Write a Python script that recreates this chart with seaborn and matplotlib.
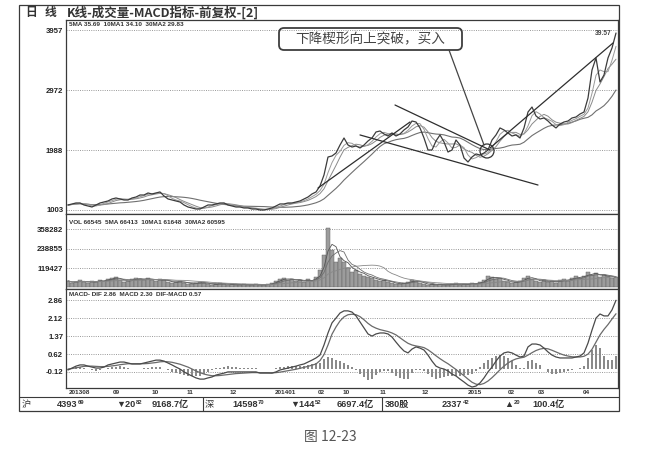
import numpy as np
import pandas as pd
import matplotlib
matplotlib.use("Agg")
import matplotlib.pyplot as plt
import matplotlib.transforms as mtrans
from matplotlib.patches import FancyBboxPatch, Circle, Rectangle
from matplotlib.lines import Line2D
import seaborn as sns

# ---------------- data ----------------
close = [10.85, 11.02, 11.18, 11.18, 10.85, 10.69, 10.52, 10.85, 11.18, 11.34,
         11.51, 11.84, 12.00, 11.84, 11.67, 11.67, 12.00, 12.16, 12.49, 12.49,
         12.82, 12.66, 12.82, 12.99, 12.33, 11.84, 11.67, 11.51, 11.34, 10.85,
         10.52, 10.36, 10.19, 10.19, 10.52, 10.85, 10.85, 11.02, 11.18, 11.18,
         10.85, 10.69, 10.52, 10.52, 10.36, 10.36, 10.19, 10.19, 10.03, 10.03,
         10.19, 10.36, 10.69, 11.02, 11.02, 11.18, 11.18, 11.34, 11.51, 11.84,
         12.16, 12.66, 12.99, 13.97, 15.78, 18.73, 18.90, 19.39, 20.70, 21.85,
         20.70, 20.37, 20.54, 20.21, 20.70, 21.36, 21.85, 22.84, 23.00, 22.51,
         22.18, 22.67, 22.18, 22.51, 23.17, 23.66, 24.64, 24.48, 23.50, 21.85,
         19.88, 19.88, 21.36, 22.35, 21.20, 19.55, 19.88, 21.52, 20.70, 18.57,
         17.91, 18.73, 19.23, 19.06, 19.39, 19.88, 21.52, 22.35, 23.50, 23.17,
         22.67, 22.18, 22.35, 21.85, 23.50, 26.12, 26.94, 25.47, 24.97, 25.14,
         24.64, 23.99, 23.50, 24.15, 24.48, 24.64, 25.14, 25.30, 25.79, 26.12,
         28.42, 33.02, 35.00, 31.05, 32.20, 35.00, 36.63, 39.09]

volume = [40000, 28000, 34000, 46000, 34000, 28000, 40000, 34000, 46000, 40000,
          52000, 58000, 64000, 46000, 34000, 40000, 52000, 58000, 52000, 46000,
          58000, 46000, 40000, 52000, 46000, 34000, 28000, 34000, 40000, 28000,
          21000, 21000, 28000, 34000, 28000, 21000, 15000, 21000, 28000, 21000,
          15000, 21000, 15000, 15000, 21000, 15000, 15000, 21000, 15000, 15000,
          21000, 28000, 40000, 52000, 58000, 46000, 52000, 40000, 46000, 34000,
          52000, 40000, 64000, 107000, 199000, 364000, 230000, 156000, 181000, 156000,
          119000, 95000, 107000, 83000, 70000, 64000, 58000, 46000, 40000, 46000,
          34000, 28000, 21000, 21000, 28000, 34000, 46000, 40000, 28000, 21000,
          15000, 21000, 15000, 21000, 15000, 15000, 21000, 28000, 15000, 21000,
          21000, 28000, 21000, 34000, 46000, 70000, 64000, 52000, 58000, 40000,
          34000, 28000, 34000, 40000, 58000, 70000, 52000, 40000, 34000, 46000,
          34000, 40000, 28000, 46000, 52000, 40000, 58000, 70000, 58000, 70000,
          95000, 77000, 89000, 64000, 77000, 70000, 58000, 64000]

dif = [-0.04, 0.04, 0.12, 0.17, 0.17, 0.12, 0.08, 0.04, 0.04, 0.08,
       0.17, 0.21, 0.25, 0.29, 0.29, 0.25, 0.21, 0.21, 0.21, 0.25,
       0.29, 0.33, 0.37, 0.37, 0.33, 0.25, 0.17, 0.08, 0.00, -0.12,
       -0.21, -0.29, -0.37, -0.42, -0.42, -0.37, -0.33, -0.25, -0.21, -0.17,
       -0.12, -0.12, -0.12, -0.12, -0.12, -0.12, -0.12, -0.12, -0.17, -0.17,
       -0.17, -0.17, -0.12, -0.04, 0.00, 0.04, 0.08, 0.12, 0.17, 0.21,
       0.29, 0.37, 0.46, 0.58, 1.00, 1.50, 1.92, 2.12, 2.33, 2.42,
       2.42, 2.37, 2.21, 1.96, 1.71, 1.46, 1.37, 1.46, 1.50, 1.50,
       1.46, 1.33, 1.12, 0.92, 0.75, 0.67, 0.83, 0.92, 0.87, 0.79,
       0.58, 0.33, 0.12, 0.04, 0.00, -0.08, -0.21, -0.29, -0.42, -0.54,
       -0.67, -0.75, -0.71, -0.58, -0.37, -0.12, 0.08, 0.33, 0.54, 0.67,
       0.71, 0.67, 0.58, 0.50, 0.54, 0.92, 1.04, 1.04, 1.00, 0.87,
       0.71, 0.58, 0.50, 0.46, 0.46, 0.46, 0.46, 0.50, 0.54, 0.67,
       1.08, 1.62, 2.12, 2.29, 2.21, 2.21, 2.46, 2.86]

dea = [0.00, 0.02, 0.05, 0.08, 0.11, 0.12, 0.12, 0.11, 0.10, 0.10,
       0.11, 0.13, 0.15, 0.18, 0.20, 0.22, 0.22, 0.22, 0.22, 0.22,
       0.23, 0.25, 0.27, 0.30, 0.31, 0.30, 0.28, 0.24, 0.20, 0.14,
       0.08, 0.00, -0.08, -0.15, -0.21, -0.25, -0.28, -0.28, -0.27, -0.25,
       -0.23, -0.21, -0.19, -0.18, -0.17, -0.16, -0.15, -0.15, -0.15, -0.15,
       -0.15, -0.16, -0.15, -0.13, -0.10, -0.07, -0.04, -0.01, 0.03, 0.07,
       0.11, 0.16, 0.21, 0.35, 0.60, 1.00, 1.45, 1.75, 2.00, 2.17,
       2.26, 2.28, 2.26, 2.18, 2.05, 1.90, 1.78, 1.70, 1.64, 1.60,
       1.56, 1.50, 1.42, 1.30, 1.18, 1.07, 1.00, 0.96, 0.93, 0.89,
       0.80, 0.68, 0.55, 0.43, 0.32, 0.22, 0.10, -0.02, -0.15, -0.28,
       -0.42, -0.55, -0.63, -0.65, -0.60, -0.50, -0.36, -0.20, -0.03, 0.12,
       0.25, 0.35, 0.42, 0.46, 0.49, 0.58, 0.68, 0.77, 0.83, 0.86,
       0.84, 0.78, 0.71, 0.64, 0.58, 0.54, 0.51, 0.50, 0.50, 0.53,
       0.62, 0.82, 1.12, 1.42, 1.65, 1.85, 2.08, 2.30]

price_ticks = [10.03, 19.88, 29.72, 39.57]
price_labels = ["1003", "1988", "2972", "3957"]
vol_ticks = [119427, 238855, 358282]
vol_labels = ["119427", "238855", "358282"]
macd_ticks = [-0.12, 0.62, 1.37, 2.12, 2.86]
macd_labels = ["-0.12", "0.62", "1.37", "2.12", "2.86"]
date_labels = ["201308", "09", "10", "11", "12", "201401", "02",
               "10", "11", "12", "2015", "02", "03", "04"]
date_pos = [-0.5, 10.5, 20.25, 29, 39.75, 51, 61.75,
            68, 77.25, 87.75, 99.25, 109.25, 116.75, 128]

title_text = "K线-成交量-MACD指标-前复权-[2]"
price_info = "5MA 35.69  10MA1 34.10  30MA2 29.83"
vol_info = "VOL 66545  5MA 66413  10MA1 61648  30MA2 60595"
macd_info = "MACD- DIF 2.86  MACD 2.30  DIF-MACD 0.57"
callout = "下降楔形向上突破，买入"
caption = "图 12-23"
status_main = ["沪", "4393", "▼20", "9168.7亿", "深", "14598", "▼144", "6697.4亿",
               "380股", "2337", "▲", "100.4亿"]
status_sub = [None, "69", "82", None, None, "70", "52", None, None, "42", "20", None]

# ---------------- style ----------------
sns.set_theme(style="white")
plt.rcParams['font.family'] = ['Liberation Sans', 'Noto Sans CJK SC', 'DejaVu Sans']
CJK = ['Noto Sans CJK SC', 'DejaVu Sans']

W, H = 659, 453
fig = plt.figure(figsize=(W / 100, H / 100), dpi=100)
fig.patch.set_facecolor("white")
PIX = mtrans.IdentityTransform()


def rect(x0, y0, x1, y1):
    return [x0 / W, 1 - y1 / H, (x1 - x0) / W, (y1 - y0) / H]


def fx(x):
    return x / W


def fy(y):
    return 1 - y / H


idx = np.arange(len(close))
s_close = pd.Series(close)
s_vol = pd.Series(volume)
hist = np.array(dif) - np.array(dea)

ax_p = fig.add_axes(rect(66, 20, 618, 214))
ax_v = fig.add_axes(rect(66, 214, 618, 289))
ax_m = fig.add_axes(rect(66, 289, 618, 388))

SP = '#3a3a3a'
GRID = '#8c8c8c'
for ax in (ax_p, ax_v, ax_m):
    ax.set_facecolor('white')
    ax.set_xlim(-0.5, len(close) - 0.5)
    for s in ax.spines.values():
        s.set_color(SP)
        s.set_linewidth(0.9)
    ax.tick_params(axis='y', length=0, pad=2, labelsize=5.6, colors='#222')
    ax.grid(False)

# ---- price panel ----
ax_p.set_ylim(9.37, 41.23)
for t in price_ticks:
    ax_p.axhline(t, color=GRID, lw=0.6, ls=(0, (1.2, 1.5)), zorder=0)
ma5 = s_close.rolling(3, min_periods=1).mean()
ma10 = s_close.rolling(5, min_periods=1).mean()
ma30 = s_close.rolling(15, min_periods=1).mean()
sns.lineplot(x=idx, y=ma30.values, ax=ax_p, color='#707070', lw=0.8, legend=False)
sns.lineplot(x=idx, y=ma10.values, ax=ax_p, color='#8a8a8a', lw=0.7, legend=False)
sns.lineplot(x=idx, y=ma5.values, ax=ax_p, color='#9a9a9a', lw=0.7, legend=False)
sns.lineplot(x=idx, y=close, ax=ax_p, color='#3c3c3c', lw=0.9, legend=False)
ax_p.set_yticks(price_ticks, price_labels)
ax_p.set_xticks([])
ax_p.set_xlabel("")
ax_p.text(len(close) - 2, price_ticks[-1], "39.57", ha='right', va='top',
          fontsize=4.8, color='#444', fontweight='bold')

# trend / wedge lines (index, price)
trend_lines = [((81.75, 27.27), (105.5, 19.88)),
               ((73.0, 22.35), (117.5, 14.13)),
               ((62.5, 13.64), (85.5, 24.48)),
               ((105.5, 20.21), (136.25, 37.45))]
for (x0, y0), (x1, y1) in trend_lines:
    ax_p.plot([x0, x1], [y0, y1], color='#2e2e2e', lw=0.9, zorder=5)

# ---- volume panel ----
ax_v.set_ylim(-9188, 450188)
for t in vol_ticks:
    ax_v.axhline(t, color=GRID, lw=0.6, ls=(0, (1.2, 1.5)), zorder=0)
ax_v.bar(idx, volume, width=0.95, color='#9c9c9c', edgecolor='#5a5a5a', linewidth=0.3, zorder=2)
vma5 = s_vol.rolling(3, min_periods=1).mean()
vma10 = s_vol.rolling(5, min_periods=1).mean()
vma30 = s_vol.rolling(15, min_periods=1).mean()
sns.lineplot(x=idx, y=vma5.values, ax=ax_v, color='#555555', lw=0.6, legend=False, zorder=3)
sns.lineplot(x=idx, y=vma10.values, ax=ax_v, color='#6e6e6e', lw=0.6, legend=False, zorder=3)
sns.lineplot(x=idx, y=vma30.values, ax=ax_v, color='#888888', lw=0.6, legend=False, zorder=3)
ax_v.set_yticks(vol_ticks, vol_labels)
ax_v.set_xticks([])
ax_v.set_xlabel("")

# ---- MACD panel ----
ax_m.set_ylim(-0.79, 3.33)
for t in macd_ticks:
    ax_m.axhline(t, color=GRID, lw=0.6, ls=(0, (1.2, 1.5)), zorder=0)
ax_m.bar(idx, hist, width=0.45, color='#8a8a8a', linewidth=0, zorder=2)
sns.lineplot(x=idx, y=dea, ax=ax_m, color='#6a6a6a', lw=0.9, legend=False, zorder=3)
sns.lineplot(x=idx, y=dif, ax=ax_m, color='#4a4a4a', lw=0.9, legend=False, zorder=3)
ax_m.set_yticks(macd_ticks, macd_labels)
ax_m.set_xticks(date_pos, [""] * len(date_pos))
ax_m.tick_params(axis='x', direction='out', length=3, width=0.6, colors=SP, pad=0)
ax_m.set_xlabel("")
blend = mtrans.blended_transform_factory(ax_m.transData, fig.transFigure)
for p, lab in zip(date_pos, date_labels):
    ax_m.text(p + 0.7, fy(393), lab, transform=blend, ha='left', va='center',
              fontsize=4.6, fontweight='bold', color='#333', clip_on=False)

for ax in (ax_p, ax_v, ax_m):
    for lab in ax.get_yticklabels():
        lab.set_fontweight('bold')

# panel info labels
fig.text(fx(69), fy(25), price_info, fontsize=4.6, fontweight='bold', color='#333', va='center')
fig.text(fx(69), fy(222), vol_info, fontsize=4.6, fontweight='bold', color='#333', va='center')
fig.text(fx(69), fy(295), macd_info, fontsize=4.6, fontweight='bold', color='#333', va='center')

# title row
fig.text(fx(25), fy(12.5), "日", family=CJK, fontsize=8.5, color='#333', va='center', fontweight='bold')
fig.text(fx(45), fy(12.5), "线", family=CJK, fontsize=8.5, color='#333', va='center', fontweight='bold')
fig.text(fx(67), fy(12.5), title_text, family=CJK, fontsize=9, color='#333', va='center', fontweight='bold')

# outer frame and status bar
fig.add_artist(Rectangle((19, H - 411), 600, 406, transform=PIX, fill=False, ec=SP, lw=0.9))
fig.add_artist(Line2D([19, 619], [H - 397, H - 397], transform=PIX, color=SP, lw=0.8))
for xs in (203, 382):
    fig.add_artist(Line2D([xs, xs], [H - 397, H - 411], transform=PIX, color=SP, lw=0.8))

status_x = [22, 57, 116, 152, 205, 232, 290, 337, 385, 442, 504, 532]
renderer = fig.canvas.get_renderer()
for x, main, sub in zip(status_x, status_main, status_sub):
    cjk_first = main in ("沪", "深")
    fam = CJK if cjk_first else ['Liberation Sans', 'Noto Sans CJK SC', 'DejaVu Sans']
    t = fig.text(fx(x), fy(404.5), main, family=fam, fontsize=6.6,
                 fontweight='normal' if cjk_first else 'bold', color='#333', va='center')
    if sub:
        bb = t.get_window_extent(renderer=renderer)
        fig.text(fx(bb.x1 + 0.5), fy(402.5), sub, fontsize=4.2,
                 fontweight='bold', color='#333', va='center')

# callout annotation
fig.add_artist(FancyBboxPatch((279, H - 50), 183, 22, boxstyle="round,pad=0,rounding_size=5",
                              transform=PIX, fill=False, ec='#3e3e3e', lw=1.3))
fig.text(fx(370.5), fy(39.5), callout, family=CJK, fontsize=9.8, color='#444',
         ha='center', va='center')
fig.add_artist(Line2D([449, 484], [H - 50, H - 145], transform=PIX, color='#444', lw=0.9))
fig.add_artist(Circle((487, H - 151), 7, transform=PIX, fill=False, ec='#333', lw=0.9))

# caption
fig.text(fx(330), fy(437), caption, family=CJK, fontsize=10, color='#555', ha='center', va='center')

fig.savefig("out.png", dpi=100)
